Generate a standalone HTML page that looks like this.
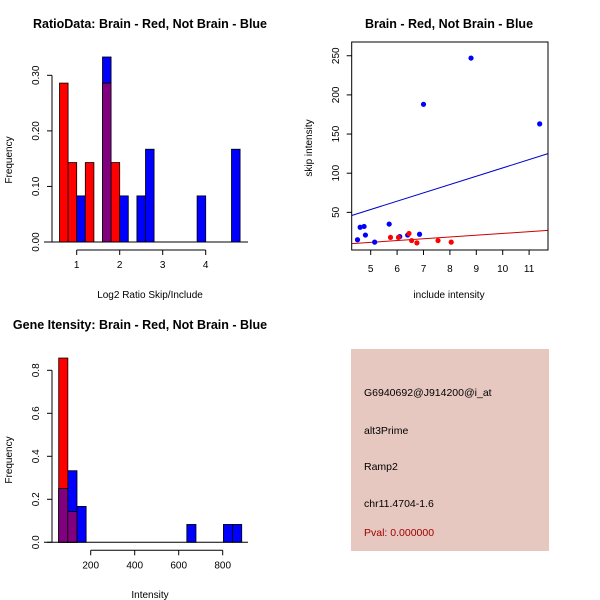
<!DOCTYPE html>
<html><head><meta charset="utf-8"><style>
body{margin:0;background:#fff;}
svg{display:block;font-family:"Liberation Sans",Arial,sans-serif;}
.t{font-weight:bold;font-size:12.5px;text-anchor:middle;}
.l{font-size:10px;}
</style></head><body>
<svg id="s" width="600" height="600" viewBox="0 0 600 600">
<text class="t" x="150" y="28">RatioData: Brain - Red, Not Brain - Blue</text>
<text class="t" x="449" y="28">Brain - Red, Not Brain - Blue</text>
<text class="t" x="140" y="329">Gene Itensity: Brain - Red, Not Brain - Blue</text>
<text class="l" x="150" y="298" text-anchor="middle">Log2 Ratio Skip/Include</text>
<text class="l" transform="translate(12,160) rotate(-90)" text-anchor="middle">Frequency</text>
<text class="l" x="449" y="298" text-anchor="middle">include intensity</text>
<text class="l" transform="translate(312,148) rotate(-90)" text-anchor="middle">skip intensity</text>
<text class="l" x="150" y="598" text-anchor="middle">Intensity</text>
<text class="l" transform="translate(12,460) rotate(-90)" text-anchor="middle">Frequency</text>
<g id="g1"></g><g id="g2"></g><g id="g3"></g>
<rect x="351" y="349" width="198" height="202" fill="#E6C8C0"/>
<g font-size="10.5px">
<text x="364" y="396">G6940692@J914200@i_at</text>
<text x="364" y="434">alt3Prime</text>
<text x="364" y="470">Ramp2</text>
<text x="364" y="507">chr11.4704-1.6</text>
<text x="364" y="536" fill="#A00000">Pval: 0.000000</text>
</g>
</svg>
<script>
// Ratio histogram data
const ratioBreakStart = 0.6, ratioBinWidth = 0.2;
const ratioRed = [0.286,0.143,0,0.143,0,0.286,0.143,0,0,0,0,0,0,0,0,0,0,0,0,0,0];
const ratioBlue = [0,0,0.083,0,0,0.333,0,0.083,0,0.083,0.167,0,0,0,0,0,0.083,0,0,0,0.167];
const ratioXTicks = [1,2,3,4];
const ratioYTicks = ["0.00","0.10","0.20","0.30"];
// Scatter data
const blueInclude = [4.5,4.6,4.75,4.8,5.15,5.7,6.1,6.4,6.85,7.0,8.8,11.4];
const blueSkip = [15,31,32,21,12,35,19,21,22,188,247,163];
const redInclude = [5.75,6.05,6.45,6.55,6.75,7.55,8.05];
const redSkip = [18,18,23,14,11,14,12];
const blueFit = [46,125]; // at x = 4.28 and 11.72
const redFit = [10,27];
const scatterXTicks = [5,6,7,8,9,10,11];
const scatterYTicks = [50,100,150,200,250];
// Intensity histogram data
const intStart = 54.5, intBinWidth = 41.6;
const intRed = [0.857,0.143];
const intBlue = [0.25,0.333,0.167,0,0,0,0,0,0,0,0,0,0,0,0.083,0,0,0,0.083,0.083];
const intXTicks = [200,400,600,800];
const intYTicks = ["0.0","0.2","0.4","0.6","0.8"];

const NS="http://www.w3.org/2000/svg";
function mk(p,tag,at){const e=document.createElementNS(NS,tag);for(const k in at)e.setAttribute(k,at[k]);p.appendChild(e);return e;}
function line(p,x1,y1,x2,y2,c){return mk(p,'line',{x1,y1,x2,y2,stroke:c||'#000','stroke-width':1});}
function txt(p,x,y,s,rot){const t=mk(p,'text',{x,y,'font-size':'10px','text-anchor':'middle'});if(rot)t.setAttribute('transform',`rotate(-90 ${x} ${y})`);t.textContent=s;return t;}

function hist(g,xs,ys,start,bw,red,blue,xt,yt,yvals,xLo,xHi,name){
  const n=Math.max(red.length,blue.length);
  for(let i=0;i<n;i++){
    const r=red[i]||0,b=blue[i]||0,x0=xs(start+i*bw),x1=xs(start+(i+1)*bw);
    if(b>0){const e=mk(g,'rect',{x:x0,y:ys(b),width:x1-x0,height:ys(0)-ys(b),fill:'#0000FF',stroke:'#000','stroke-width':0.8});
      
      }
    if(r>0){const e=mk(g,'rect',{x:x0,y:ys(r),width:x1-x0,height:ys(0)-ys(r),fill:'#FF0000',stroke:'#000','stroke-width':0.8});
      
      }
    const m=Math.min(r,b);
    if(m>0){const e=mk(g,'rect',{x:x0,y:ys(m),width:x1-x0,height:ys(0)-ys(m),fill:'#800080',stroke:'#000','stroke-width':0.8});
      
      }
  }
  line(g,xLo,ys(0),xHi,ys(0));
  // x axis
  const xa=ys(0)+8;
  line(g,xs(xt[0]),xa,xs(xt[xt.length-1]),xa);
  xt.forEach(v=>{line(g,xs(v),xa,xs(v),xa+5);const t=txt(g,xs(v),xa+18,String(v));
    
    });
  // y axis
  const yx=52;
  line(g,yx,ys(yvals[0]),yx,ys(yvals[yvals.length-1]));
  yvals.forEach((v,i)=>{line(g,yx-5,ys(v),yx,ys(v));const t=txt(g,yx-13,ys(v),yt[i],true);
    
    });
}
// Panel 1
{const g=document.getElementById('g1');
 const xs=v=>76.7+(v-1)*43,ys=v=>242-v*555.6;
 hist(g,xs,ys,ratioBreakStart,ratioBinWidth,ratioRed,ratioBlue,ratioXTicks,ratioYTicks,ratioYTicks.map(Number),44,248,'ratio');}
// Panel 3
{const g=document.getElementById('g3');
 const xs=v=>46.7+v*0.22,ys=v=>542.3-v*215;
 hist(g,xs,ys,intStart,intBinWidth,intRed,intBlue,intXTicks,intYTicks,intYTicks.map(Number),44,248,'intensity');}
// Panel 2
{const g=document.getElementById('g2');
 const xs=v=>344.3+(v-4)*26.4,ys=v=>251.5-v*0.783;
 const cp=mk(g,'clipPath',{id:'cp'});mk(cp,'rect',{x:351.7,y:42,width:196.3,height:208});
 const bl=mk(g,'line',{x1:351.7,y1:ys(blueFit[0]),x2:548,y2:ys(blueFit[1]),stroke:'#0000CC','stroke-width':1});
 
 
 const rl=mk(g,'line',{x1:351.7,y1:ys(redFit[0]),x2:548,y2:ys(redFit[1]),stroke:'#CC0000','stroke-width':1});
 
 
 blueInclude.forEach((x,i)=>{const c=mk(g,'circle',{cx:xs(x),cy:ys(blueSkip[i]),r:2.6,fill:'#0000FF'});
   
   });
 redInclude.forEach((x,i)=>{const c=mk(g,'circle',{cx:xs(x),cy:ys(redSkip[i]),r:2.6,fill:'#FF0000'});
   
   });
 const b=mk(g,'rect',{x:351.7,y:42,width:196.3,height:208,fill:'none',stroke:'#000','stroke-width':1});
 
 
 scatterXTicks.forEach(v=>{line(g,xs(v),250,xs(v),255);const t=txt(g,xs(v),272,String(v));
   
   });
 scatterYTicks.forEach(v=>{line(g,346.7,ys(v),351.7,ys(v));const t=txt(g,339,ys(v),String(v),true);
   
   });
}
</script>
</body></html>
